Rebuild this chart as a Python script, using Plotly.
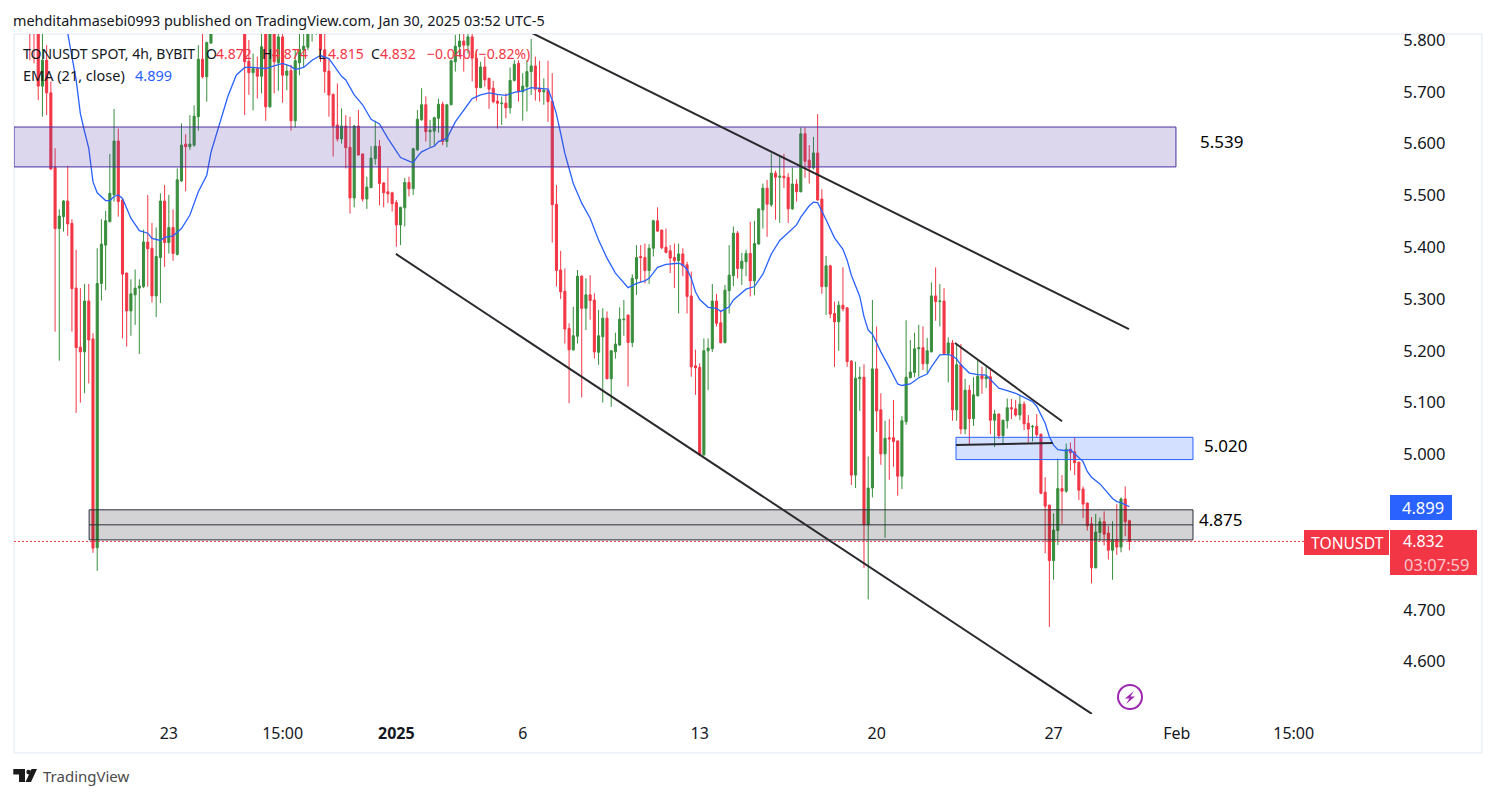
import pandas as pd
import plotly.graph_objects as go

# Candle values, oldest first (4h bars ending 2025-01-30 03:00, exchange time UTC-5)
open_ = [5.84,5.83,5.83,5.711,5.761,5.698,5.554,5.436,5.459,5.489,
5.446,5.321,5.207,5.198,5.296,5.223,4.82,5.330,5.404,5.449,
5.501,5.605,5.491,5.350,5.277,5.308,5.321,5.324,5.410,5.398,
5.306,5.380,5.489,5.409,5.438,5.386,5.528,5.599,5.594,5.597,
5.652,5.763,5.729,5.794,5.825,5.85,5.87,5.88,5.86,5.84,
5.83,5.83,5.759,5.737,5.745,5.730,5.84,5.671,5.84,5.756,
5.806,5.732,5.741,5.644,5.756,5.781,5.786,5.82,5.83,5.84,
5.781,5.740,5.695,5.636,5.609,5.634,5.593,5.495,5.634,5.580,
5.493,5.515,5.571,5.595,5.524,5.507,5.505,5.486,5.443,5.476,
5.525,5.513,5.588,5.646,5.675,5.623,5.624,5.649,5.676,5.604,
5.675,5.758,5.787,5.798,5.790,5.806,5.765,5.708,5.748,5.726,
5.707,5.682,5.677,5.678,5.669,5.722,5.755,5.700,5.710,5.739,
5.750,5.707,5.700,5.703,5.682,5.483,5.356,5.315,5.243,5.202,
5.228,5.344,5.282,5.308,5.298,5.197,5.227,5.263,5.146,5.198,
5.211,5.260,5.269,5.216,5.339,5.382,5.380,5.355,5.398,5.451,
5.433,5.400,5.393,5.380,5.374,5.387,5.366,5.306,5.171,5.168,
4.999,5.200,5.204,5.296,5.254,5.216,5.316,5.345,5.427,5.359,
5.372,5.388,5.335,5.406,5.472,5.514,5.482,5.543,5.535,5.537,
5.535,5.474,5.522,5.507,5.619,5.568,5.553,5.582,5.493,5.324,
5.364,5.272,5.256,5.288,5.283,5.180,4.960,5.146,5.149,4.864,
4.935,5.165,5.086,5.001,5.032,5.032,5.026,4.958,5.063,5.148,
5.158,5.204,5.206,5.175,5.198,5.306,5.295,5.296,5.195,5.215,
5.086,5.173,5.049,5.124,5.069,5.113,5.152,5.146,5.150,5.066,
5.078,5.036,5.065,5.090,5.088,5.076,5.097,5.060,5.053,5.054,
5.039,4.927,4.902,4.795,4.853,4.934,4.929,5.010,5.005,4.985,
4.933,4.906,4.866,4.781,4.849,4.870,4.848,4.815,4.836,4.821,4.914,4.872]

high = [5.86,5.86,5.85,5.83,5.79,5.72,5.591,5.473,5.491,5.557,
5.454,5.395,5.321,5.329,5.329,5.234,5.398,5.454,5.470,5.580,
5.667,5.629,5.493,5.351,5.338,5.357,5.338,5.434,5.501,5.447,
5.438,5.504,5.520,5.501,5.473,5.552,5.639,5.618,5.655,5.674,
5.79,5.83,5.797,5.84,5.86,5.89,5.90,5.91,5.88,5.87,
5.86,5.85,5.80,5.774,5.768,5.82,5.86,5.87,5.86,5.83,
5.83,5.752,5.752,5.781,5.82,5.82,5.84,5.85,5.86,5.86,
5.82,5.765,5.697,5.716,5.668,5.655,5.652,5.636,5.665,5.581,
5.536,5.595,5.644,5.607,5.526,5.554,5.507,5.491,5.478,5.534,
5.536,5.592,5.665,5.707,5.691,5.646,5.652,5.687,5.681,5.676,
5.762,5.81,5.815,5.815,5.82,5.82,5.781,5.758,5.768,5.727,
5.721,5.694,5.691,5.697,5.747,5.761,5.761,5.736,5.761,5.802,
5.768,5.760,5.726,5.760,5.736,5.520,5.393,5.359,5.253,5.285,
5.356,5.346,5.340,5.346,5.311,5.279,5.282,5.276,5.201,5.235,
5.284,5.298,5.270,5.348,5.404,5.404,5.407,5.406,5.453,5.477,
5.434,5.436,5.404,5.407,5.407,5.398,5.372,5.353,5.202,5.176,
5.224,5.224,5.329,5.310,5.279,5.327,5.404,5.440,5.431,5.389,
5.395,5.449,5.451,5.475,5.523,5.530,5.581,5.548,5.578,5.580,
5.543,5.554,5.531,5.631,5.631,5.597,5.613,5.657,5.512,5.383,
5.366,5.295,5.296,5.361,5.284,5.182,5.179,5.169,5.174,4.996,
5.298,5.247,5.118,5.065,5.068,5.105,5.027,5.074,5.259,5.221,
5.235,5.250,5.247,5.225,5.332,5.361,5.329,5.321,5.226,5.221,
5.214,5.213,5.146,5.134,5.149,5.182,5.169,5.169,5.166,5.086,
5.079,5.067,5.108,5.107,5.105,5.115,5.102,5.076,5.057,5.078,
5.040,4.956,4.903,4.886,4.992,4.960,5.021,5.023,5.033,4.986,
4.938,4.907,4.879,4.885,4.878,4.890,4.862,4.871,4.904,4.917,4.938,4.874]

low = [5.761,5.755,5.684,5.652,5.655,5.549,5.237,5.181,5.430,5.422,
5.237,5.08,5.10,5.118,5.137,4.81,4.775,5.297,5.317,5.449,
5.488,5.459,5.224,5.208,5.229,5.250,5.194,5.321,5.324,5.293,
5.265,5.292,5.362,5.388,5.374,5.384,5.526,5.508,5.588,5.594,
5.625,5.726,5.681,5.793,5.82,5.84,5.85,5.86,5.83,5.825,
5.82,5.655,5.694,5.664,5.687,5.697,5.644,5.669,5.697,5.702,
5.679,5.703,5.625,5.631,5.732,5.748,5.78,5.797,5.81,5.758,
5.698,5.652,5.575,5.604,5.600,5.552,5.465,5.477,5.577,5.488,
5.474,5.514,5.559,5.481,5.477,5.485,5.469,5.401,5.404,5.440,
5.498,5.501,5.586,5.644,5.604,5.593,5.597,5.621,5.597,5.593,
5.674,5.739,5.768,5.739,5.774,5.720,5.683,5.707,5.710,5.667,
5.678,5.629,5.636,5.649,5.658,5.720,5.681,5.644,5.662,5.694,
5.683,5.681,5.675,5.642,5.409,5.324,5.300,5.214,5.099,5.200,
5.214,5.110,5.240,5.260,5.185,5.173,5.100,5.145,5.092,5.185,
5.210,5.229,5.131,5.207,5.308,5.333,5.330,5.329,5.382,5.430,
5.396,5.388,5.350,5.321,5.272,5.344,5.272,5.150,5.115,4.998,
4.998,5.124,5.198,5.247,5.214,5.214,5.272,5.325,5.340,5.327,
5.344,5.305,5.307,5.405,5.436,5.420,5.478,5.453,5.447,5.514,
5.447,5.472,5.488,5.506,5.534,5.523,5.550,5.490,5.310,5.269,
5.263,5.169,5.200,5.276,5.169,4.941,4.935,5.084,4.781,4.720,
4.917,5.043,4.980,4.839,4.951,4.976,4.920,4.933,5.057,5.147,
5.149,5.150,5.163,5.157,5.197,5.258,5.247,5.194,5.139,5.065,
5.065,5.039,5.039,5.018,5.055,5.112,5.117,5.128,5.039,5.014,
5.030,5.018,5.050,5.068,5.073,5.066,5.047,5.023,5.025,5.032,
4.923,4.809,4.667,4.758,4.825,4.866,4.926,4.969,4.960,4.912,
4.877,4.853,4.751,4.780,4.833,4.824,4.797,4.758,4.806,4.811,4.842,4.815]

close = [5.82,5.82,5.711,5.761,5.698,5.551,5.436,5.460,5.489,5.445,
5.320,5.206,5.198,5.296,5.221,4.819,5.330,5.406,5.451,5.504,
5.605,5.488,5.348,5.277,5.310,5.321,5.325,5.410,5.397,5.306,
5.382,5.489,5.409,5.438,5.388,5.530,5.597,5.594,5.599,5.653,
5.763,5.729,5.795,5.825,5.85,5.87,5.88,5.86,5.84,5.83,
5.83,5.758,5.737,5.745,5.730,5.787,5.671,5.84,5.758,5.806,
5.732,5.740,5.644,5.760,5.782,5.788,5.82,5.83,5.84,5.781,
5.739,5.694,5.634,5.609,5.634,5.592,5.495,5.634,5.578,5.493,
5.516,5.572,5.595,5.523,5.505,5.503,5.484,5.443,5.477,5.525,
5.513,5.590,5.647,5.675,5.623,5.626,5.650,5.676,5.604,5.675,
5.760,5.788,5.798,5.790,5.806,5.765,5.708,5.748,5.723,5.705,
5.681,5.678,5.678,5.669,5.722,5.753,5.700,5.711,5.739,5.750,
5.705,5.700,5.703,5.681,5.482,5.355,5.314,5.242,5.202,5.229,
5.344,5.282,5.308,5.297,5.198,5.229,5.263,5.146,5.200,5.213,
5.261,5.261,5.216,5.340,5.380,5.380,5.355,5.398,5.451,5.431,
5.399,5.390,5.379,5.374,5.387,5.364,5.305,5.169,5.167,4.999,
5.200,5.205,5.296,5.253,5.216,5.317,5.346,5.427,5.359,5.373,
5.388,5.335,5.407,5.474,5.514,5.483,5.543,5.535,5.537,5.534,
5.474,5.522,5.507,5.619,5.566,5.553,5.582,5.491,5.324,5.364,
5.271,5.256,5.288,5.281,5.179,4.960,5.147,5.149,4.864,4.935,
5.165,5.084,5.001,5.031,5.030,5.025,4.958,5.065,5.149,5.159,
5.204,5.206,5.175,5.200,5.306,5.295,5.296,5.195,5.215,5.086,
5.173,5.049,5.124,5.069,5.115,5.151,5.146,5.150,5.066,5.078,
5.036,5.066,5.090,5.088,5.076,5.097,5.059,5.049,5.054,5.038,
4.925,4.900,4.795,4.854,4.934,4.929,5.010,5.003,4.984,4.931,
4.904,4.862,4.781,4.850,4.870,4.846,4.815,4.835,4.821,4.914,4.870,4.832]

# EMA(21) read at selected bars: bar number counted from 2025-01-13 03:00
ema_bar = [-151,-150,-148,-147,-146,-145,-144,-143,-141,-140,-139,-138,-137,-136,-135,-133,-131,-130,-128,-127,
-125,-123,-121,-119,-117,-116,-114,-112,-110,-108,-106,-103,-101,-99,-97,-96,-94,-92,-90,-88,
-85,-84,-82,-80,-78,-76,-74,-71,-69,-68,-67,-66,-64,-63,-62,-60,-58,-56,-54,-52,
-50,-48,-46,-44,-42,-40,-38,-36,-35,-34,-33,-32,-31,-30,-28,-26,-24,-22,-20,-18,
-17,-15,-13,-12,-11,-10,-8,-5,-4,-3,-2,-1,0,2,4,5,7,8,11,13,
15,17,19,21,23,24,26,27,28,30,32,34,35,36,37,38,39,40,41,43,
45,46,47,48,50,52,54,55,57,59,60,61,62,64,66,68,69,70,71,73,
75,77,79,80,81,82,83,84,85,87,88,90,91,92,93,95,96,97,98,99,100,102]
ema = [5.84,5.813,5.723,5.658,5.623,5.591,5.526,5.505,5.490,5.490,5.498,5.501,5.494,5.475,5.456,5.432,5.427,5.417,5.413,5.419,
5.422,5.436,5.462,5.507,5.539,5.583,5.636,5.691,5.732,5.747,5.747,5.745,5.750,5.755,5.749,5.743,5.747,5.761,5.770,5.764,
5.730,5.723,5.694,5.675,5.647,5.638,5.610,5.573,5.566,5.563,5.575,5.584,5.592,5.595,5.604,5.610,5.642,5.665,5.687,5.694,
5.698,5.695,5.693,5.699,5.702,5.708,5.707,5.705,5.684,5.657,5.620,5.581,5.552,5.523,5.485,5.456,5.414,5.379,5.350,5.332,
5.322,5.330,5.335,5.340,5.351,5.361,5.367,5.369,5.366,5.357,5.340,5.314,5.299,5.284,5.282,5.276,5.285,5.298,5.319,5.324,
5.348,5.387,5.413,5.429,5.443,5.458,5.480,5.487,5.486,5.453,5.418,5.396,5.375,5.346,5.327,5.305,5.266,5.240,5.232,5.198,
5.168,5.151,5.136,5.133,5.136,5.148,5.155,5.169,5.192,5.193,5.190,5.184,5.173,5.157,5.154,5.153,5.145,5.136,5.128,5.123,
5.118,5.110,5.102,5.093,5.076,5.060,5.034,5.018,5.009,5.007,5.009,4.994,4.986,4.967,4.956,4.943,4.934,4.925,4.915,4.909,4.907,4.899]

# Axis ticks
y_ticks = [4.6, 4.7, 5.0, 5.1, 5.2, 5.3, 5.4, 5.5, 5.6, 5.7, 5.8]
x_tick_vals = ["2024-12-23 03:00", "2024-12-27 15:00", "2025-01-01 03:00", "2025-01-06 03:00",
               "2025-01-13 03:00", "2025-01-20 03:00", "2025-01-27 03:00", "2025-02-01 00:00", "2025-02-05 15:00"]
x_tick_text = ["23", "15:00", "<b>2025</b>", "6", "13", "20", "27", "Feb", "15:00"]

# Drawings on the chart: (start time, start price, end time, end price)
trend_lines = [
    ("2025-01-06 11:47", 5.8135, "2025-01-30 02:35", 5.242),
    ("2025-01-01 02:34", 5.387, "2025-01-28 15:20", 4.499),
    ("2025-01-23 05:20", 5.215, "2025-01-27 11:00", 5.064),
    ("2025-01-23 06:20", 5.018, "2025-01-27 02:20", 5.022),
]
zones = {
    "supply": ("2024-12-17 00:00", "2025-01-31 23:10", 5.555, 5.632),
    "mid": ("2025-01-23 06:20", "2025-02-01 15:20", 4.990, 5.033),
    "demand": ("2024-12-19 23:20", "2025-02-01 15:20", 4.835, 4.893),
}
demand_mid = 4.864
last_price = 4.832

W, H = 1494, 798
L, R, T, B = 14, 104, 34, 84
RED, GREEN, BLUE, INK = "#f23645", "#388e3c", "#2962ff", "#131722"
FONT = "Noto Sans"


def px(x):
    return (x - L) / (W - L - R)


def py(y):
    return 1 - (y - T) / (H - T - B)


def path(points):
    return "M" + " L".join(f"{px(a):.5f},{py(b):.5f}" for a, b in points) + " Z"


base = pd.Timestamp("2025-01-13 03:00")
bars = pd.date_range(end="2025-01-30 03:00", periods=len(open_), freq="4h")
ema_x = [base + pd.Timedelta(hours=4 * b) for b in ema_bar]

fig = go.Figure()
fig.add_trace(go.Candlestick(
    x=bars, open=open_, high=high, low=low, close=close,
    increasing=dict(line=dict(color=GREEN, width=1), fillcolor=GREEN),
    decreasing=dict(line=dict(color=RED, width=1), fillcolor=RED),
    whiskerwidth=0, hoverinfo="skip", showlegend=False,
))
fig.add_trace(go.Scatter(x=ema_x, y=ema, mode="lines", line=dict(color=BLUE, width=1.3),
                         hoverinfo="skip", showlegend=False))

shapes = []
# chart frame
shapes.append(dict(type="rect", xref="paper", yref="paper", x0=px(14), x1=px(1482), y0=py(34), y1=py(753),
                   line=dict(color="#f0f3fa", width=2), layer="below"))
# zones
zone_styles = {
    "supply": ("rgba(80,55,160,0.2)", "#4a2fa0"),
    "mid": ("rgba(41,98,255,0.2)", BLUE),
    "demand": ("rgba(19,23,34,0.19)", "#2a2e39"),
}
for name, (a, b, lo, hi) in zones.items():
    fill, edge = zone_styles[name]
    shapes.append(dict(type="rect", xref="x", yref="y", x0=a, x1=b, y0=lo, y1=hi,
                       fillcolor=fill, line=dict(color=edge, width=1), layer="above"))
shapes.append(dict(type="line", xref="x", yref="y", x0=zones["demand"][0], x1=zones["demand"][1],
                   y0=demand_mid, y1=demand_mid, line=dict(color="#2a2e39", width=1), layer="above"))
# last price line
shapes.append(dict(type="line", xref="paper", yref="y", x0=0, x1=px(1304), y0=last_price, y1=last_price,
                   line=dict(color=RED, width=1, dash="2px,2px"), layer="above"))
# trend lines
for a, pa, b, pb in trend_lines:
    shapes.append(dict(type="line", xref="x", yref="y", x0=a, y0=pa, x1=b, y1=pb,
                       line=dict(color="#2a2a2e", width=2), layer="above"))
# price tags
for x0, x1, y0, y1, col in [(1390, 1452, 495, 520, BLUE), (1304, 1389, 530, 555, RED), (1390, 1477, 530, 575, RED)]:
    shapes.append(dict(type="rect", xref="paper", yref="paper", x0=px(x0), x1=px(x1), y0=py(y1), y1=py(y0),
                       fillcolor=col, line=dict(width=0), layer="above"))
# lightning badge
shapes.append(dict(type="circle", xref="paper", yref="paper", x0=px(1118), x1=px(1142), y0=py(709), y1=py(685),
                   line=dict(color="#9c27b0", width=2), fillcolor="rgba(0,0,0,0)", layer="above"))
shapes.append(dict(type="path", xref="paper", yref="paper", line=dict(width=0), fillcolor="#9c27b0", layer="above",
                   path=path([(1134, 691), (1125, 698.5), (1129.5, 698.5), (1126, 704), (1135, 696.5), (1130.5, 696.5)])))
# TradingView logo
for pts in ([(13.3, 769), (25, 769), (25, 782), (19, 782), (19, 774.5), (13.3, 774.5)],
            [(37, 769), (31, 782), (25.5, 782), (31.5, 769)]):
    shapes.append(dict(type="path", xref="paper", yref="paper", line=dict(width=0), fillcolor="#1a1a1a",
                       layer="above", path=path(pts)))
shapes.append(dict(type="circle", xref="paper", yref="paper", x0=px(26.3), x1=px(31), y0=py(774.5), y1=py(769.7),
                   fillcolor="#1a1a1a", line=dict(width=0), layer="above"))


def label(x, y, text, color=INK, size=14, anchor="left"):
    return dict(xref="paper", yref="paper", x=px(x - 2 if anchor == "left" else x), y=py(y), text=text,
                showarrow=False, xanchor=anchor, yanchor="middle", align=anchor,
                font=dict(color=color, size=size, family=FONT))


annotations = [
    label(13, 20, "mehditahmasebi0993 published on TradingView.com, Jan 30, 2025 03:52 UTC-5", INK, 14.4),
    label(23, 53, "TONUSDT SPOT, 4h, BYBIT"),
    label(206, 53, "O"), label(216, 53, "4.872", RED),
    label(262, 53, "H"), label(272, 53, "4.874", RED),
    label(318, 53, "L"), label(328, 53, "4.815", RED),
    label(371, 53, "C"), label(380, 53, "4.832", RED),
    label(427, 53, "\u22120.040 (\u22120.82%)", RED),
    label(23, 75, "EMA (21, close)", INK, 14.5), label(135, 75, "4.899", BLUE, 14.5),
    label(1221, 141, "5.539", "#000000", 17, "center"),
    label(1225, 445, "5.020", "#000000", 17, "center"),
    label(1220, 519, "4.875", "#000000", 17, "center"),
    label(1423, 507, "4.899", "#ffffff", 16.5, "center"),
    label(1347, 543, "TONUSDT", "#ffffff", 15.7, "center"),
    label(1423, 541, "4.832", "#ffffff", 16, "center"),
    label(1436, 564, "03:07:59", "#fbc3c9", 16.5, "center"),
    label(43, 776, "TradingView", "#4a4a4a", 15),
]

fig.update_layout(
    width=W, height=H, margin=dict(l=L, r=R, t=T, b=B, autoexpand=False, pad=0),
    paper_bgcolor="#ffffff", plot_bgcolor="#ffffff", showlegend=False, hovermode=False,
    font=dict(family=FONT, color=INK, size=14),
    shapes=shapes, annotations=annotations, dragmode=False,
    xaxis=dict(type="date", range=["2024-12-17 00:00", "2025-02-09 10:24"], rangeslider=dict(visible=False),
               showgrid=False, zeroline=False, showline=False, tickmode="array",
               tickvals=x_tick_vals, ticktext=x_tick_text, ticks="outside", ticklen=5,
               tickcolor="rgba(0,0,0,0)", tickfont=dict(size=16, color=INK, family=FONT)),
    yaxis=dict(side="right", range=[4.4988, 5.8116], showgrid=False, zeroline=False, showline=False,
               tickmode="array", tickvals=y_ticks, tickformat=".3f", ticks="outside", ticklen=9,
               tickcolor="rgba(0,0,0,0)", tickfont=dict(size=16.5, color=INK, family=FONT)),
)

fig.write_html("out.html", config={"displayModeBar": False, "staticPlot": True},
               post_script="document.body.style.margin='0';document.body.style.overflow='hidden';")
